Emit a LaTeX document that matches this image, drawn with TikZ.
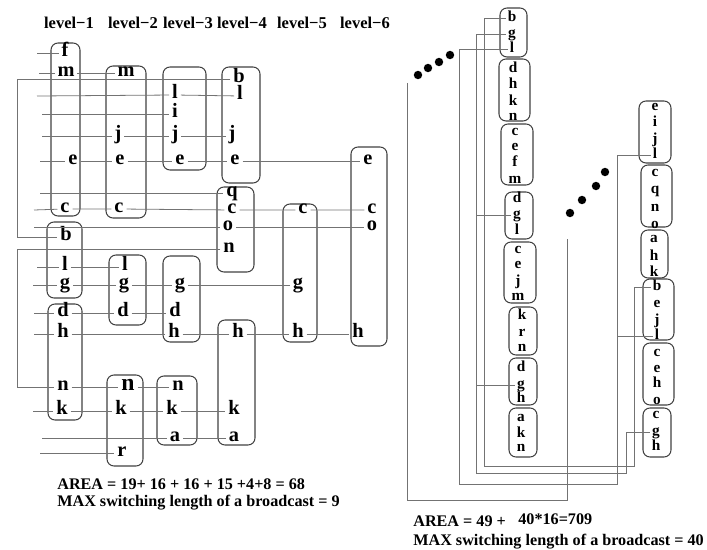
\documentclass[tikz,border=0pt]{standalone}
\usepackage{fontspec}
\setmainfont{Liberation Serif}
\usetikzlibrary{fit}
\begin{document}
\begin{tikzpicture}[x=0.02cm,y=-0.02cm,
  box/.style={draw=black!75, line width=0.6pt, rounded corners=4pt, inner sep=0pt},
  conn/.style={draw=black!55, line width=0.45pt},
  L/.style={font=\fontsize{11.6}{14}\selectfont\bfseries, inner sep=1.5pt, text height=0.45em, text depth=0em},
  LB/.style={L, font=\fontsize{13.5}{16}\selectfont\bfseries},
  R/.style={font=\fontsize{8.7}{10}\selectfont\bfseries, inner sep=1pt, text height=0.45em, text depth=0em},
  hdr/.style={font=\fontsize{9.4}{11}\selectfont\bfseries, inner sep=0pt},
  foot/.style={font=\fontsize{9.2}{11}\selectfont\bfseries, inner sep=0pt, anchor=base west},
  dot/.style={circle, fill=black, inner sep=0pt, minimum size=4.8pt}
]
\useasboundingbox (0,0) rectangle (707,550);

% ---------- headers ----------
\node[hdr] (h1) at (69,23) {level−1};
\node[hdr] (h2) at (133,23) {level−2};
\node[hdr] (h3) at (188,23) {level−3};
\node[hdr] (h4) at (242,23) {level−4};
\node[hdr] (h5) at (302,23) {level−5};
\node[hdr] (h6) at (365,23) {level−6};

% ---------- left boxes ----------
\node[box, fit={(51,43) (80,216)}] (A) {};
\node[box, fit={(47,222) (82,298)}] (B) {};
\node[box, fit={(48,304) (82,420)}] (D) {};
\node[box, fit={(106,66) (146,218)}] (E) {};
\node[box, fit={(109,255) (146,325)}] (F) {};
\node[box, fit={(107,375) (143,466)}] (G) {};
\node[box, fit={(163,67) (206,170)}] (H) {};
\node[box, fit={(163,256) (200,342)}] (I) {};
\node[box, fit={(157,376) (197,445)}] (J) {};
\node[box, fit={(222,67) (260,183)}] (K) {};
\node[box, fit={(217,187) (254,272)}] (Lb) {};
\node[box, fit={(218,320) (255,445)}] (M) {};
\node[box, fit={(283,204) (317,342)}] (N) {};
\node[box, fit={(351,147) (387,346)}] (O) {};

% ---------- left letters ----------
% level-1
\node[L] (f1) at (65,53) {f};
\node[L] (m1) at (66,73) {m};
\node[L] (e1) at (73,161) {e};
\node[L] (c1) at (65,209) {c};
\node[L] (b1) at (66,237) {b};
\node[L] (l1) at (65,267) {l};
\node[L] (g1) at (65,285) {g};
\node[L] (d1) at (63,313) {d};
\node[L] (hh1) at (63,334) {h};
\node[L] (n1) at (63,387) {n};
\node[L] (k1) at (62,411) {k};
% level-2
\node[L] (m2) at (126,73) {m};
\node[L] (j2) at (118,136) {j};
\node[L] (e2) at (120,161) {e};
\node[L] (c2) at (119,209) {c};
\node[L] (l2) at (125,267) {l};
\node[L] (g2) at (124,285) {g};
\node[L] (d2) at (123,313) {d};
\node[LB] (n2) at (128,387) {n};
\node[L] (k2) at (121,411) {k};
\node[L] (r2) at (122,453) {r};
% level-3
\node[L] (l3) at (175,95) {l};
\node[L] (i3) at (175,114) {i};
\node[L] (j3) at (175,136) {j};
\node[L] (e3) at (180,161) {e};
\node[L] (g3) at (180,285) {g};
\node[L] (d3) at (175,313) {d};
\node[L] (hh3) at (174,334) {h};
\node[L] (n3) at (178,387) {n};
\node[L] (k3) at (172,411) {k};
\node[L] (a3) at (175,438) {a};
% level-4
\node[L] (b4) at (239,79) {b};
\node[L] (l4) at (240,96) {l};
\node[L] (j4) at (232,136) {j};
\node[L] (e4) at (235,161) {e};
\node[L] (q4) at (232,193) {q};
\node[L] (c4) at (232,210) {c};
\node[L] (o4) at (228,227) {o};
\node[L] (n4) at (229,249) {n};
\node[L] (hh4) at (238,334) {h};
\node[L] (k4) at (234,411) {k};
\node[L] (a4) at (234,438) {a};
% level-5
\node[L] (c5) at (303,210) {c};
\node[L] (g5) at (298,285) {g};
\node[L] (hh5) at (298,334) {h};
% level-6
\node[L] (e6) at (368,161) {e};
\node[L] (c6) at (372,210) {c};
\node[L] (o6) at (372,227) {o};
\node[L] (hh6) at (358,334) {h};

% ---------- left free ends ----------
\coordinate (sf) at (37,53);
\coordinate (sm) at (39,73);
\coordinate (sl) at (37,96);
\coordinate (si) at (42,114);
\coordinate (sj) at (42,136);
\coordinate (se) at (40,161);
\coordinate (sq) at (40,193);
\coordinate (sc) at (34,210);
\coordinate (so) at (34,227);
\coordinate (sl1) at (37,267);
\coordinate (sg) at (33,285);
\coordinate (sd) at (34,313);
\coordinate (sh) at (34,334);
\coordinate (sk) at (33,411);
\coordinate (sa) at (42,438);
\coordinate (sr) at (40,453);
\coordinate (Cb) at (17,237);
\coordinate (Cn) at (17,387);

% ---------- left connectors ----------
\draw[conn] (sf) -- (f1);
\draw[conn] (sm) -- (m1) (m1) -- (m2);
\draw[conn] (b4.west) -| (Cb) -- (b1.west);
\draw[conn] (sl) -- (l3) (l3) -- (l4);
\draw[conn] (si) -- (i3);
\draw[conn] (sj) -- (j2) (j2) -- (j3) (j3) -- (j4);
\draw[conn] (se) -- (e1) (e1) -- (e2) (e2) -- (e3) (e3) -- (e4) (e4) -- (e6);
\draw[conn] (sq) -- (q4);
\draw[conn] (sc) -- (c1) (c1) -- (c2) (c2) -- (c4) (c4) -- (c5) (c5) -- (c6);
\draw[conn] (so) -- (o4) (o4) -- (o6);
\draw[conn] (n4.west) -| (Cn) -- (n1.west);
\draw[conn] (sl1) -- (l1) (l1) -- (l2);
\draw[conn] (sg) -- (g1) (g1) -- (g2) (g2) -- (g3) (g3) -- (g5);
\draw[conn] (sd) -- (d1) (d1) -- (d2) (d2) -- (d3);
\draw[conn] (sh) -- (hh1) (hh1) -- (hh3) (hh3) -- (hh4) (hh4) -- (hh5) (hh5) -- (hh6);
\draw[conn] (n1) -- (n2) (n2) -- (n3);
\draw[conn] (sk) -- (k1) (k1) -- (k2) (k2) -- (k3) (k3) -- (k4);
\draw[conn] (sa) -- (a3) (a3) -- (a4);
\draw[conn] (sr) -- (r2);

% ---------- left footer ----------
\node[foot] (fa1) at (57,490) {AREA = 19+ 16 + 16 + 15 +4+8 = 68};
\node[foot] (fm1) at (57,507) {MAX switching length of a broadcast = 9};

% ---------- right boxes ----------
\node[box, fit={(500,8) (527,57)}] (R1a) {};
\node[box, fit={(499,59) (530,121)}] (R1b) {};
\node[box, fit={(501,124) (533,185)}] (R1c) {};
\node[box, fit={(505,192) (533,239)}] (R1d) {};
\node[box, fit={(504,242) (536,303)}] (R1e) {};
\node[box, fit={(509,307) (537,355)}] (R1f) {};
\node[box, fit={(509,358) (537,405)}] (R1g) {};
\node[box, fit={(509,408) (537,457)}] (R1h) {};
\node[box, fit={(639,101) (671,163)}] (R2a) {};
\node[box, fit={(641,165) (672,227)}] (R2b) {};
\node[box, fit={(641,230) (668,278)}] (R2c) {};
\node[box, fit={(643,279) (674,340)}] (R2d) {};
\node[box, fit={(643,343) (674,405)}] (R2e) {};
\node[box, fit={(643,408) (671,457)}] (R2f) {};

% ---------- right letters ----------
\foreach \n/\t/\y in {ab/b/18, ag/g/34, al/l/49} \node[R] (\n) at (512,\y) {\t};
\foreach \n/\t/\y in {bd/d/69, bh/h/85, bk/k/102, bn/n/117} \node[R] (\n) at (513,\y) {\t};
\foreach \n/\t/\y in {cc/c/132, ce/e/147, cf/f/163, cm/m/180} \node[R] (\n) at (515,\y) {\t};
\foreach \n/\t/\y in {dd/d/199, dg/g/215, dl/l/231} \node[R] (\n) at (517,\y) {\t};
\foreach \n/\t/\y in {ec/c/250, ee/e/265, ej/j/282, em/m/297} \node[R] (\n) at (518,\y) {\t};
\foreach \n/\t/\y in {fk/k/316, fr/r/333, fn/n/348} \node[R] (\n) at (522,\y) {\t};
\foreach \n/\t/\y in {gd/d/368, gg/g/385, gh/h/399} \node[R] (\n) at (521,\y) {\t};
\foreach \n/\t/\y in {ha/a/418, hk/k/434, hn/n/448} \node[R] (\n) at (521,\y) {\t};
\foreach \n/\t/\y in {pe/e/107, pi/i/123, pj/j/140, pl/l/155} \node[R] (\n) at (655,\y) {\t};
\foreach \n/\t/\y in {qc/c/173, qq/q/190, qn/n/208, qo/o/225} \node[R] (\n) at (655,\y) {\t};
\foreach \n/\t/\y in {ra/a/239, rh/h/257, rk/k/273} \node[R] (\n) at (654,\y) {\t};
\foreach \n/\t/\y in {sb/b/287, se/e/304, sj/j/321, sll/l/336} \node[R] (\n) at (657,\y) {\t};
\foreach \n/\t/\y in {tc/c/353, te/e/369, th/h/384, to/o/401} \node[R] (\n) at (657,\y) {\t};
\foreach \n/\t/\y in {uc/c/415, ug/g/432, uh/h/447} \node[R] (\n) at (656,\y) {\t};

% ---------- right connectors ----------
\coordinate (Pb1) at (484,466); \coordinate (Pb2) at (634,466);
\coordinate (Pg1) at (476,473); \coordinate (Pg2) at (626,473);
\coordinate (Pl1) at (459,484); \coordinate (Pl2) at (617,484);
\coordinate (O1) at (407,83); \coordinate (O2) at (407,500);
\coordinate (O3) at (567,500); \coordinate (O4) at (567,239);
\draw[conn] (ab.west) -| (Pb1) -- (Pb2) |- (sb.west);
\draw[conn] (ag.west) -| (Pg1) -- (Pg2) |- (ug.west);
\draw[conn] (dg.west) -- (dg.west -| Pg1);
\draw[conn] (gg.west) -- (gg.west -| Pg1);
\draw[conn] (al.west) -| (Pl1) -- (Pl2) |- (pl.west);
\draw[conn] (sll.west) -- (sll.west -| Pl2);
\draw[conn] (O1) -- (O2) -- (O3) -- (O4);

% ---------- dots ----------
\node[dot] (u1) at (418,75) {};
\node[dot] (u2) at (428,68) {};
\node[dot] (u3) at (439,62) {};
\node[dot] (u4) at (450,55) {};
\node[dot] (w1) at (570,213) {};
\node[dot] (w2) at (582,200) {};
\node[dot] (w3) at (596,186) {};
\node[dot] (w4) at (605,172) {};

% ---------- right footer ----------
\node[foot] (fa2) at (413,527) {AREA = 49 +};
\node[foot] (fx2) at (518,524) {40*16=709};
\node[foot] (fm2) at (413,545) {MAX switching length of a broadcast = 40};
\end{tikzpicture}
\end{document}
